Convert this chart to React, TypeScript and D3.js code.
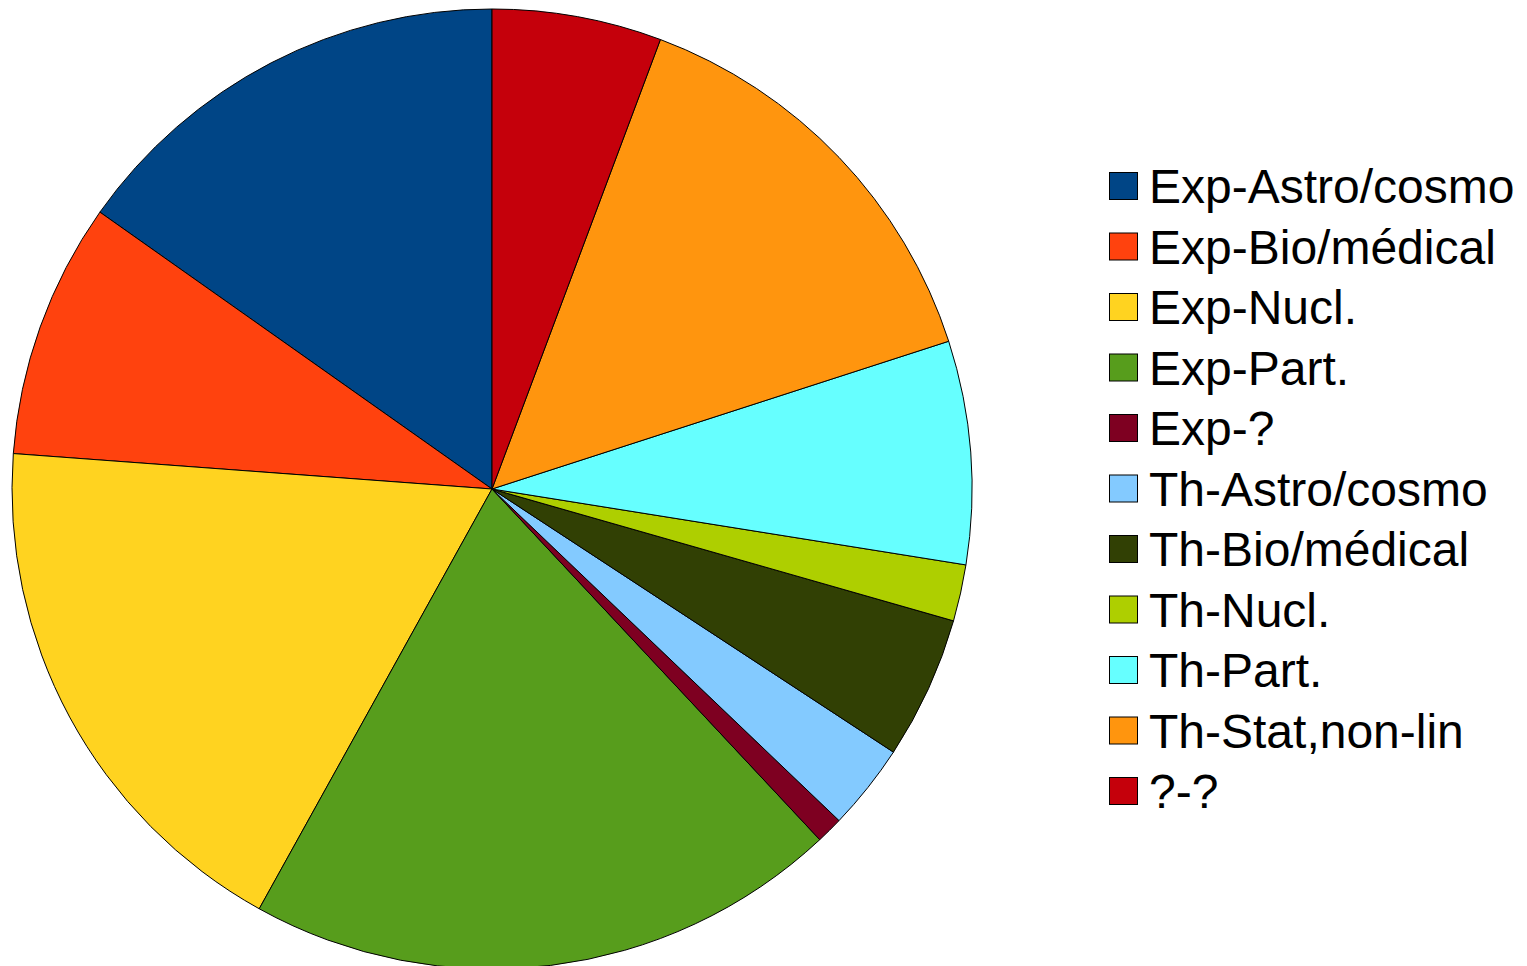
import React from "react";
import * as d3 from "d3";

const categories = [
  "Exp-Astro/cosmo",
  "Exp-Bio/médical",
  "Exp-Nucl.",
  "Exp-Part.",
  "Exp-?",
  "Th-Astro/cosmo",
  "Th-Bio/médical",
  "Th-Nucl.",
  "Th-Part.",
  "Th-Stat,non-lin",
  "?-?",
];
const values = [15.2, 8.6, 18.1, 20.0, 0.9, 2.9, 4.8, 1.9, 7.5, 14.3, 5.7];
const colors = [
  "#004586",
  "#ff420e",
  "#ffd320",
  "#579d1c",
  "#7e0021",
  "#83caff",
  "#314004",
  "#aecf00",
  "#66ffff",
  "#ff950e",
  "#c5000b",
];

const W = 1527;
const H = 966;
const cx = 492;
const cy = 489;
const R = 480;

export default function App() {
  const pie = d3
    .pie<number>()
    .sort(null)
    .startAngle(0)
    .endAngle(-2 * Math.PI)
    .value((d) => d);
  const arcs = pie(values);
  const arc = d3.arc<d3.PieArcDatum<number>>().innerRadius(0).outerRadius(R);

  const legendY = d3
    .scaleLinear()
    .domain([0, categories.length - 1])
    .range([172, 777]);

  return (
    <div style={{ position: "absolute", left: 0, top: 0 }}>
      <svg width={W} height={H} style={{ display: "block" }}>
        <rect x={0} y={0} width={W} height={H} fill="#ffffff" />
        <g transform={`translate(${cx},${cy})`}>
          {arcs.map((a, i) => (
            <path
              key={i}
              d={arc(a) || ""}
              fill={colors[i]}
              stroke="#000"
              strokeWidth={1}
              strokeLinejoin="round"
            />
          ))}
        </g>
        <g>
          {categories.map((c, i) => {
            const y = legendY(i);
            return (
              <g key={c}>
                <rect
                  x={1109.5}
                  y={y + 0.5}
                  width={28}
                  height={27}
                  fill={colors[i]}
                  stroke="#000"
                  strokeWidth={1}
                />
                <text
                  x={1149}
                  y={y + 31}
                  fontFamily="'Liberation Sans', Arial, sans-serif"
                  fontSize={48}
                  fill="#000"
                >
                  {c}
                </text>
              </g>
            );
          })}
        </g>
      </svg>
    </div>
  );
}
